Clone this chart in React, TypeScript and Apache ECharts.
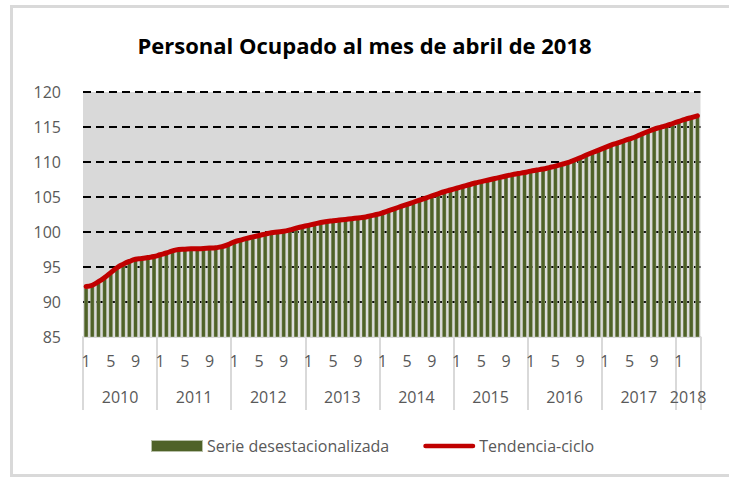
import { useEffect, useRef } from 'react';
import * as echarts from 'echarts';

const years = ['2010', '2011', '2012', '2013', '2014', '2015', '2016', '2017', '2018'];
const monthsInYear = [12, 12, 12, 12, 12, 12, 12, 12, 4];
const monthLabels: string[] = [];
years.forEach((y, i) => {
  for (let m = 1; m <= monthsInYear[i]; m++) monthLabels.push(String(m));
});

const serieDesestacionalizada = [
  92.0, 92.3, 92.8, 93.6, 94.3, 94.8, 95.5, 95.7, 96.0, 96.3, 96.3, 96.4,
  96.8, 97.1, 97.2, 97.4, 97.6, 97.5, 97.6, 97.7, 97.6, 97.8, 97.9, 98.1,
  98.5, 98.9, 99.0, 99.3, 99.4, 99.7, 99.8, 100.0, 100.2, 100.2, 100.5, 100.8,
  100.9, 101.1, 101.3, 101.5, 101.5, 101.7, 101.8, 101.8, 102.0, 102.1, 102.2, 102.5,
  102.7, 103.0, 103.3, 103.6, 104.0, 104.2, 104.5, 104.8, 105.1, 105.5, 105.7, 105.9,
  106.2, 106.5, 106.7, 106.9, 107.2, 107.3, 107.6, 107.8, 107.9, 108.2, 108.3, 108.4,
  108.7, 108.8, 109.0, 109.1, 109.4, 109.6, 109.8, 110.2, 110.6, 110.9, 111.3, 111.7,
  112.0, 112.3, 112.7, 113.0, 113.2, 113.6, 113.9, 114.3, 114.6, 114.9, 115.2, 115.4,
  115.7, 116.0, 116.3, 116.5,
];

const tendenciaCiclo = [
  92.2, 92.4, 92.9, 93.5, 94.2, 94.9, 95.4, 95.8, 96.1, 96.2, 96.35, 96.5,
  96.75, 97.0, 97.3, 97.5, 97.55, 97.6, 97.6, 97.65, 97.7, 97.75, 97.9, 98.2,
  98.6, 98.85, 99.1, 99.3, 99.5, 99.7, 99.9, 100.0, 100.1, 100.3, 100.55, 100.75,
  100.95, 101.15, 101.35, 101.5, 101.6, 101.7, 101.8, 101.9, 102.0, 102.1, 102.3, 102.5,
  102.75, 103.05, 103.35, 103.65, 103.95, 104.25, 104.55, 104.85, 105.15, 105.45, 105.75, 106.0,
  106.25, 106.5, 106.75, 107.0, 107.2, 107.4, 107.6, 107.8, 108.0, 108.2, 108.35, 108.5,
  108.7, 108.85, 109.0, 109.2, 109.4, 109.65, 109.9, 110.25, 110.6, 111.0, 111.35, 111.7,
  112.05, 112.4, 112.7, 113.0, 113.3, 113.6, 114.0, 114.35, 114.7, 114.95, 115.2, 115.5,
  115.8, 116.1, 116.35, 116.6,
];

const FONT = "'Open Sans', 'Noto Sans', sans-serif";

export default function App() {
  const ref = useRef<HTMLDivElement>(null);
  useEffect(() => {
    if (!ref.current) return;
    const chart = echarts.init(ref.current, undefined, { renderer: 'svg' });
    const total = monthLabels.length;
    const yearCenters: { [k: number]: string } = {};
    let start = 0;
    years.forEach((y, i) => {
      yearCenters[start + monthsInYear[i] / 2] = y;
      start += monthsInYear[i];
    });
    chart.setOption({
      animation: false,
      backgroundColor: '#ffffff',
      textStyle: { fontFamily: FONT },
      title: {
        text: 'Personal Ocupado al mes de abril de 2018',
        left: 'center',
        top: 29,
        textStyle: { fontSize: 22, fontWeight: 'bold', color: '#000000', fontFamily: FONT },
      },
      graphic: [
        {
          type: 'rect',
          shape: { x: 11.5, y: 6.5, width: 740, height: 469 },
          style: { fill: 'none', stroke: '#d9d9d9', lineWidth: 3 },
          silent: true,
          z: -10,
        },
      ],
      legend: {
        bottom: 18,
        left: 145,
        itemWidth: 52,
        itemHeight: 12,
        itemGap: 34,
        textStyle: { fontSize: 16, color: '#595959', fontFamily: FONT, padding: [0, 0, 0, -1] },
        data: [
          { name: 'Serie desestacionalizada', icon: 'rect' },
          { name: 'Tendencia-ciclo', icon: 'path://M2,0 H54 A2.5,2.5 0 0 1 54,5 H2 A2.5,2.5 0 0 1 2,0 Z' },
        ],
      },
      grid: {
        left: 83,
        right: 28.5,
        top: 92,
        bottom: 140,
        show: true,
        backgroundColor: '#d9d9d9',
        borderWidth: 0,
        containLabel: false,
      },
      xAxis: [
        {
          type: 'category',
          data: monthLabels,
          boundaryGap: true,
          axisLine: { show: true, lineStyle: { color: '#d9d9d9', width: 2 } },
          axisTick: {
            show: true,
            interval: (i: number) => i % 12 === 0,
            length: 73,
            lineStyle: { color: '#d9d9d9', width: 2 },
          },
          axisLabel: {
            interval: (i: number) => i % 4 === 0,
            color: '#595959',
            fontSize: 16,
            margin: 16,
            fontFamily: FONT,
          },
          splitLine: { show: false },
        },
        {
          type: 'value',
          min: 0,
          max: total,
          interval: 1,
          position: 'bottom',
          axisLine: { show: false },
          axisTick: { show: false },
          splitLine: { show: false },
          axisLabel: {
            margin: 52,
            color: '#595959',
            fontSize: 16,
            fontFamily: FONT,
            showMinLabel: true,
            showMaxLabel: true,
            formatter: (v: number) => yearCenters[v] || '',
          },
        },
      ],
      yAxis: {
        type: 'value',
        min: 85,
        max: 120,
        interval: 5,
        axisLine: { show: false },
        axisTick: { show: false },
        axisLabel: { color: '#595959', fontSize: 16, margin: 22, fontFamily: FONT },
        splitLine: { show: true, lineStyle: { color: '#000000', type: [8, 5], width: 2 } },
      },
      series: [
        {
          name: 'Serie desestacionalizada',
          type: 'bar',
          xAxisIndex: 0,
          data: serieDesestacionalizada,
          barCategoryGap: '28%',
          itemStyle: { color: '#4f6228', borderColor: 'rgba(255,255,255,0.6)', borderWidth: 0.5 },
          z: 2,
        },
        {
          name: 'Tendencia-ciclo',
          type: 'line',
          xAxisIndex: 0,
          data: tendenciaCiclo,
          smooth: true,
          symbol: 'none',
          lineStyle: { color: '#c00000', width: 5, cap: 'round' },
          itemStyle: { color: '#c00000' },
          z: 3,
        },
      ],
    });
    return () => chart.dispose();
  }, []);
  return (
    <div
      ref={ref}
      style={{ position: 'absolute', left: 0, top: 0, width: 729, height: 477 }}
    />
  );
}
